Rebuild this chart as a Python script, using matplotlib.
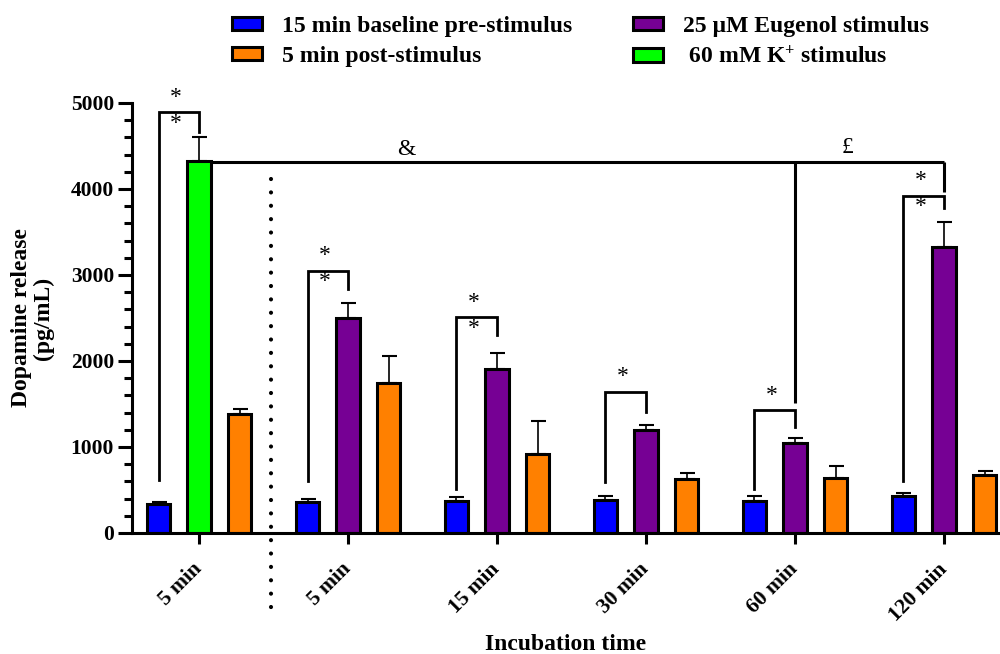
import numpy as np
import matplotlib
matplotlib.use("Agg")
import matplotlib.pyplot as plt
from matplotlib.patches import Patch
from matplotlib import transforms

plt.rcParams['font.family'] = ['Liberation Serif', 'DejaVu Serif']
plt.rcParams['mathtext.fontset'] = 'custom'
plt.rcParams['mathtext.rm'] = 'Liberation Serif:bold'
plt.rcParams['mathtext.default'] = 'rm'

# ---- data (pg/mL) ----
group_labels = ['5 min', '5 min', '15 min', '30 min', '60 min', '120 min']
baseline = [337, 357, 372, 384, 376, 430]
baseline_err = [18, 38, 50, 50, 58, 31]
stimulus = [4326, 2496, 1903, 1198, 1047, 3322]
stimulus_err = [275, 182, 186, 54, 54, 298]
post = [1380, 1748, 915, 628, 643, 674]
post_err = [62, 310, 391, 73, 132, 51]

series_names = ['15 min baseline pre-stimulus', '5 min post-stimulus',
                '25 \u00b5M Eugenol stimulus', ' 60 mM K$^{+}$ stimulus']

# significance brackets: baseline vs stimulus within each group
bracket_left = [616, 605, 508, 597, 508, 608]
bracket_top = [4892, 3050, 2508, 1643, 1430, 3922]
bracket_right = [4659, 2834, 2302, 1403, 1236, 3783]
bracket_marks = ['**', '**', '**', '*', '*', '**']

# comparison line from the K+ response to 60 and 120 min eugenol
compare_level = 4310
compare_drop = [1508, 3969]
compare_marks = ['&', '\u00a3']
compare_mark_x = [1.393, 4.35]
compare_mark_y = [4465, 4477]

C_BLUE = '#0000FF'
C_ORANGE = '#FF8000'
C_PURPLE = '#760094'
C_GREEN = '#00FF00'

fig = plt.figure(figsize=(10, 6.54), dpi=100)
ax = fig.add_axes([0.132, 1 - 533 / 654, 0.868, (533 - 103) / 654])

x = np.arange(len(group_labels))
off = 0.272
w = 0.158
edge_lw = 2.2
stim_colors = [C_GREEN] + [C_PURPLE] * (len(group_labels) - 1)

for xs, vals, errs, cols in [
    (x - off, baseline, baseline_err, [C_BLUE] * len(x)),
    (x, stimulus, stimulus_err, stim_colors),
    (x + off, post, post_err, [C_ORANGE] * len(x)),
]:
    ax.errorbar(xs, vals, yerr=[np.zeros(len(vals)), errs], fmt='none',
                ecolor='black', elinewidth=1.2, capsize=5.4, capthick=1.5,
                zorder=1)
    ax.bar(xs, vals, width=w, color=cols, edgecolor='black',
           linewidth=edge_lw, zorder=2)

ax.set_xlim(-0.45, 5.376)
ax.set_ylim(0, 5000)
ax.set_yticks(np.arange(0, 5001, 1000))
ax.set_yticks(np.arange(0, 5001, 200), minor=True)
ax.set_xticks(x)
ax.set_xticklabels(group_labels, rotation=45, ha='right', va='center',
                   rotation_mode='anchor', fontsize=15.5, fontweight='bold')
for lbl in ax.get_yticklabels():
    lbl.set_fontweight('bold')
ax.tick_params(axis='y', which='major', length=10, width=2.2, pad=3,
               labelsize=15.5)
ax.tick_params(axis='y', which='minor', length=6, width=2.2)
ax.tick_params(axis='x', which='major', length=8, width=2.2, pad=16)
for s in ['top', 'right']:
    ax.spines[s].set_visible(False)
for s in ['left', 'bottom']:
    ax.spines[s].set_linewidth(2.2)

ax.set_ylabel('Dopamine release\n(pg/mL)', fontsize=17, fontweight='bold',
              linespacing=1.05, va='center')
ax.yaxis.set_label_coords(-0.115, 0.5)
ax.set_xlabel('Incubation time', fontsize=17, fontweight='bold', va='center')
ax.xaxis.set_label_coords(0.5, (533 - 645) / 430)

# dotted separator between the K+ control and the eugenol time course
ax.plot([0.483, 0.483], [4116, -872], color='black', lw=3,
        linestyle=(0, (0.01, 3.2)), dash_capstyle='round', clip_on=False,
        zorder=3)

# significance brackets
for g, yl, yt, yr, mk in zip(x, bracket_left, bracket_top, bracket_right,
                              bracket_marks):
    xl, xr = g - off, g
    ax.plot([xl, xl, xr, xr], [yl, yt, yt, yr], color='black', lw=2.0,
            solid_joinstyle='miter', zorder=3, clip_on=False)
    xm = (xl + xr) / 2 - 0.02
    above = transforms.offset_copy(ax.transData, fig=fig, x=0, y=15,
                                   units='dots')
    ax.text(xm, yt, '*', transform=above, ha='center', va='center',
            fontsize=17, clip_on=False)
    if mk == '**':
        below = transforms.offset_copy(ax.transData, fig=fig, x=0, y=-11,
                                       units='dots')
        ax.text(xm, yt, '*', transform=below, ha='center', va='center',
                fontsize=17, clip_on=False)

# comparison line
x0 = x[0] + w / 2
ax.plot([x0, x[5]], [compare_level, compare_level], color='black', lw=2.2,
        zorder=3, clip_on=False, solid_capstyle='butt')
for gx, yb in zip([x[4], x[5]], compare_drop):
    ax.plot([gx, gx], [compare_level, yb], color='black', lw=2.2, zorder=3,
            clip_on=False, solid_capstyle='butt')
for mx, my, mk in zip(compare_mark_x, compare_mark_y, compare_marks):
    ax.text(mx, my, mk, ha='center', va='center', fontsize=17,
            clip_on=False)

# legend in two columns
handles = [Patch(facecolor=c, edgecolor='black', linewidth=2.2)
           for c in [C_BLUE, C_ORANGE, C_PURPLE, C_GREEN]]
prop = {'weight': 'bold', 'size': 17}
common = dict(loc='upper left', frameon=False, prop=prop, handlelength=1.27,
              handleheight=0.5, handletextpad=0.85, labelspacing=0.38,
              borderpad=0, borderaxespad=0)
leg1 = fig.legend(handles[:2], series_names[:2],
                  bbox_to_anchor=(232 / 1000, 1 - 16 / 654), **common)
leg2 = fig.legend(handles[2:], series_names[2:],
                  bbox_to_anchor=(633 / 1000, 1 - 16 / 654), **common)

fig.savefig('out.png', dpi=100)
